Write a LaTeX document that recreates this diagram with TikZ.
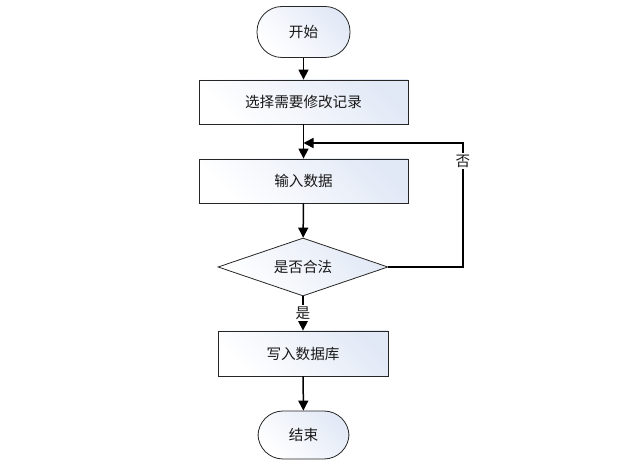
\documentclass[tikz,border=0pt]{standalone}
\usepackage{fontspec}
\newfontfamily\cjk{Noto Sans CJK SC}
\usetikzlibrary{arrows.meta,shapes.geometric,calc}
\definecolor{boxblue}{HTML}{E2E9F6}
\tikzset{
  every node/.style={font=\cjk\fontsize{14.6}{16}\selectfont, text=black!90},
  base/.style={draw=black!85, line width=0.8pt, left color=boxblue, right color=white, shading angle=-45},
  term/.style={base, rounded corners=25pt, minimum width=93pt, minimum height=51pt, inner sep=0pt},
  proc/.style={base, rectangle, minimum width=209pt, minimum height=44pt, inner sep=0pt},
  proc2/.style={base, rectangle, minimum width=170pt, minimum height=45pt, inner sep=0pt},
  dec/.style={base, diamond, aspect=2.93, minimum width=170pt, minimum height=58pt, inner sep=0pt},
  flow/.style={line width=1.5pt, -{Triangle[length=10pt,width=10pt]}},
  lbl/.style={fill=white, inner sep=1.5pt}
}
\begin{document}
\begin{tikzpicture}[x=1pt,y=-1pt]
\useasboundingbox (0,0) rectangle (630,470);
\node[term] (start) at (303.5,32) {开始};
\node[proc] (sel) at (303.5,102) {选择需要修改记录};
\node[proc] (inp) at (303.5,181) {输入数据};
\node[dec] (chk) at (303,267) {是否合法};
\node[proc2] (wr) at (303,353.5) {写入数据库};
\node[term, minimum width=91pt, minimum height=48pt] (end) at (303.5,435) {结束};
\coordinate (c1) at (463,267);
\coordinate (c2) at (463,143);
\coordinate (c3) at (303.5,143);
\draw[flow] (start) -- (sel);
\draw[flow] (sel) -- (inp);
\draw[flow] (inp) -- (chk);
\draw[flow] (chk) -- (wr);
\node[lbl] (yes) at (303,313) {是};
\draw[flow] (wr) -- (end);
\draw[flow] (chk.east) -- (c1) -- (c2) -- (c3);
\node[lbl] (no) at (463,161) {否};
\end{tikzpicture}
\end{document}
